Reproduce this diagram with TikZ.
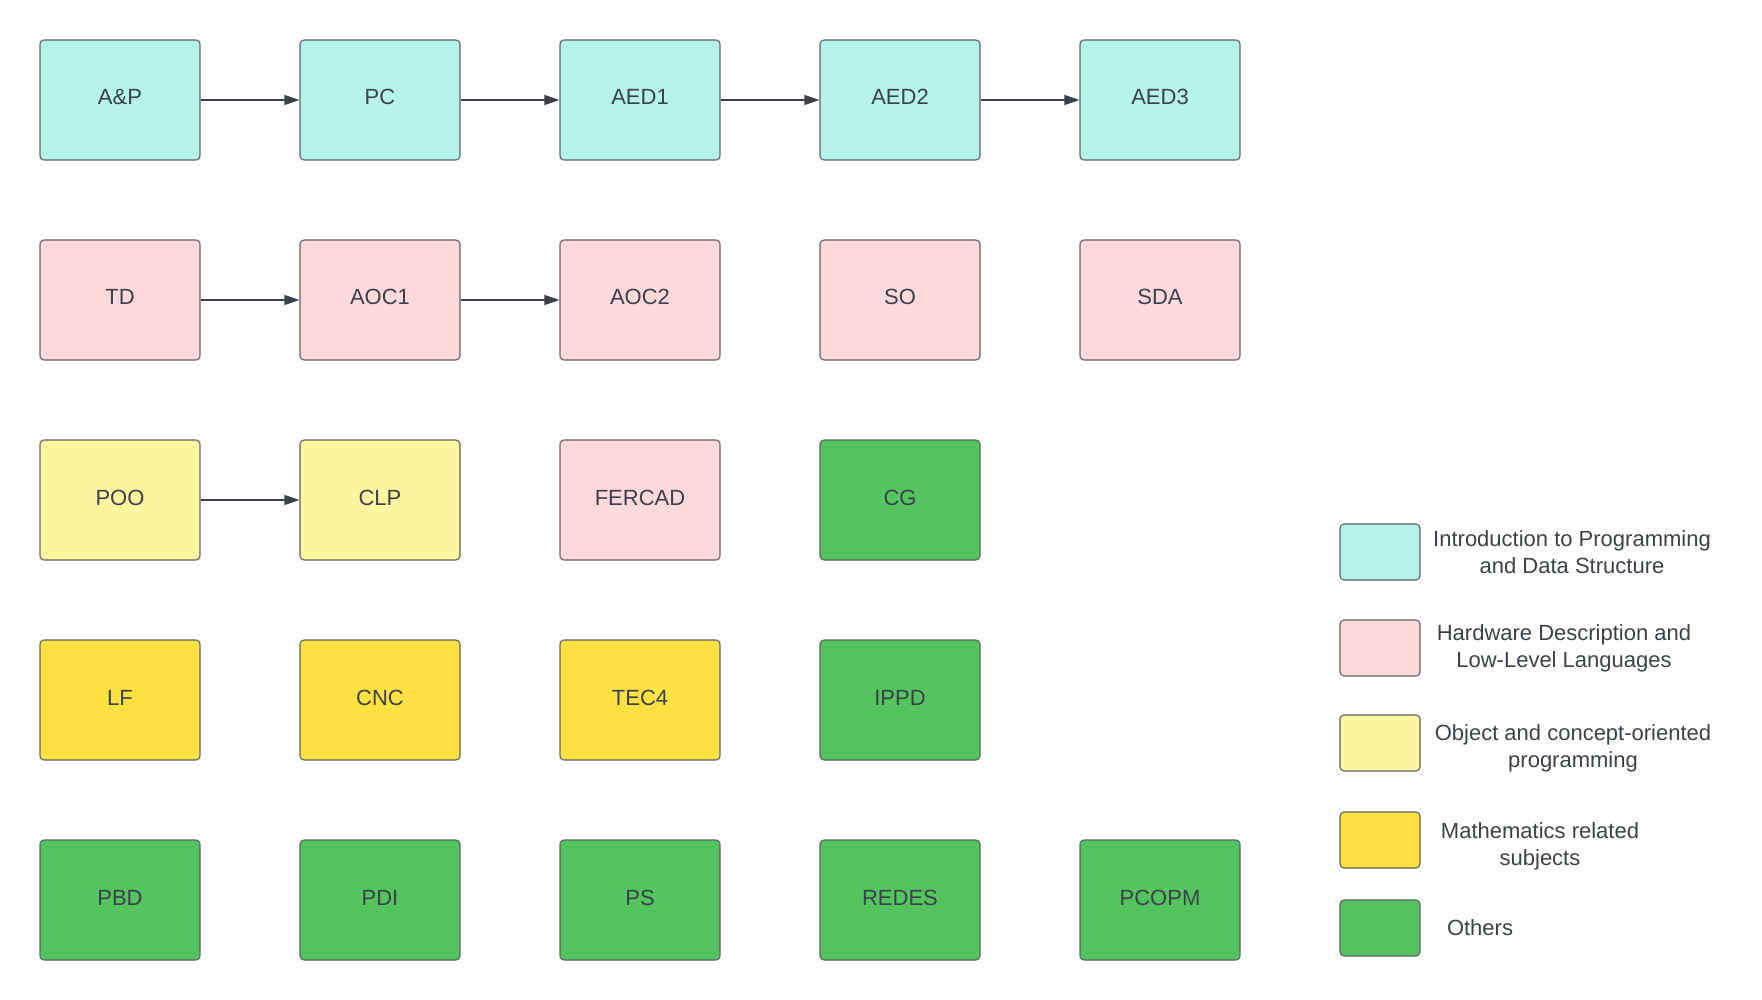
\documentclass[tikz,border=0pt]{standalone}
\usepackage{fontspec}
\setmainfont{Liberation Sans}
\usetikzlibrary{arrows.meta}
\definecolor{cteal}{HTML}{B6F4EB}
\definecolor{cpink}{HTML}{FFD9DB}
\definecolor{clyel}{HTML}{FFF69F}
\definecolor{cyel}{HTML}{FFE142}
\definecolor{cgreen}{HTML}{54C45E}
\definecolor{ctext}{HTML}{3A414A}
\definecolor{cborder}{HTML}{5E6166}
\tikzset{
  subj/.style={draw=cborder, line width=1.1pt, rounded corners=4pt, minimum width=160pt, minimum height=120pt, inner sep=0pt, text height=16pt, text depth=6pt, text=ctext, font=\fontsize{22}{26}\selectfont},
  leg/.style={draw=cborder, line width=1.1pt, rounded corners=4pt, minimum width=80pt, minimum height=56pt, inner sep=0pt},
  legtext/.style={text=ctext, align=center, inner sep=0pt, font=\fontsize{22}{27}\selectfont},
  conn/.style={draw=ctext, line width=1.2pt, -{Triangle[length=15pt,width=10pt]}}
}
\begin{document}
\begin{tikzpicture}[x=1pt,y=-1pt]
\useasboundingbox (0,0) rectangle (1762,1000);
% row 1
\node[subj, fill=cteal] (ap) at (120,100) {A\&P};
\node[subj, fill=cteal] (pc) at (380,100) {PC};
\node[subj, fill=cteal] (aed1) at (640,100) {AED1};
\node[subj, fill=cteal] (aed2) at (900,100) {AED2};
\node[subj, fill=cteal] (aed3) at (1160,100) {AED3};
% row 2
\node[subj, fill=cpink] (td) at (120,300) {TD};
\node[subj, fill=cpink] (aoc1) at (380,300) {AOC1};
\node[subj, fill=cpink] (aoc2) at (640,300) {AOC2};
\node[subj, fill=cpink] (so) at (900,300) {SO};
\node[subj, fill=cpink] (sda) at (1160,300) {SDA};
% row 3
\node[subj, fill=clyel] (poo) at (120,500) {POO};
\node[subj, fill=clyel] (clp) at (380,500) {CLP};
\node[subj, fill=cpink] (fercad) at (640,500) {FERCAD};
\node[subj, fill=cgreen] (cg) at (900,500) {CG};
% row 4
\node[subj, fill=cyel] (lf) at (120,700) {LF};
\node[subj, fill=cyel] (cnc) at (380,700) {CNC};
\node[subj, fill=cyel] (tec4) at (640,700) {TEC4};
\node[subj, fill=cgreen] (ippd) at (900,700) {IPPD};
% row 5
\node[subj, fill=cgreen] (pbd) at (120,900) {PBD};
\node[subj, fill=cgreen] (pdi) at (380,900) {PDI};
\node[subj, fill=cgreen] (ps) at (640,900) {PS};
\node[subj, fill=cgreen] (redes) at (900,900) {REDES};
\node[subj, fill=cgreen] (pcopm) at (1160,900) {PCOPM};
% connectors
\draw[conn] (ap) -- (pc);
\draw[conn] (pc) -- (aed1);
\draw[conn] (aed1) -- (aed2);
\draw[conn] (aed2) -- (aed3);
\draw[conn] (td) -- (aoc1);
\draw[conn] (aoc1) -- (aoc2);
\draw[conn] (poo) -- (clp);
% legend
\node[leg, fill=cteal] (l1) at (1380,552) {};
\node[leg, fill=cpink] (l2) at (1380,648) {};
\node[leg, fill=clyel] (l3) at (1380,743) {};
\node[leg, fill=cyel] (l4) at (1380,840) {};
\node[leg, fill=cgreen] (l5) at (1380,928) {};
\node[legtext] (t1) at (1572,552) {Introduction to Programming\\and Data Structure};
\node[legtext] (t2) at (1564,648) {Hardware Description and\\Low-Level Languages};
\node[legtext] (t3) at (1573,748) {Object and concept-oriented\\programming};
\node[legtext] (t4) at (1540,846) {Mathematics related\\subjects};
\node[legtext] (t5) at (1480,928) {Others};
\end{tikzpicture}
\end{document}
